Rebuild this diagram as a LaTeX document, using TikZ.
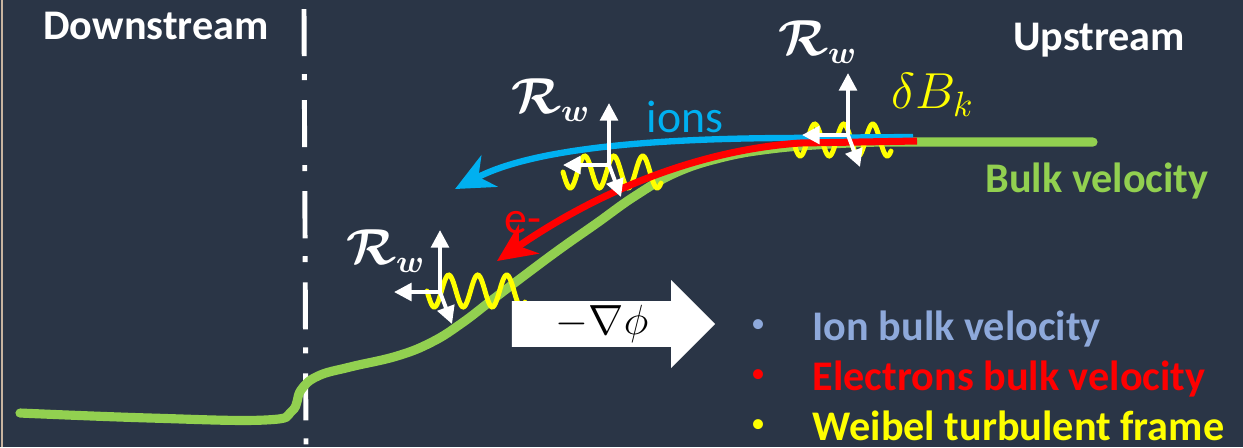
\documentclass[tikz,border=0pt]{standalone}
\usepackage{amsmath}
\usepackage{fontspec}
\setmainfont{Carlito}
\usepackage{tikz}
\usetikzlibrary{arrows.meta, shapes.arrows}
\definecolor{slatebg}{HTML}{2A3546}
\definecolor{bulkgreen}{HTML}{92D050}
\definecolor{ionblue}{HTML}{00B0F0}
\definecolor{ionlegend}{HTML}{8EA9DB}
\definecolor{weibelyellow}{HTML}{FFFF00}
\definecolor{elecred}{HTML}{FF0000}
\definecolor{edgetan}{HTML}{C8B4A0}

\begin{document}
\begin{tikzpicture}[x=0.01cm, y=-0.01cm,
          side/.style={text=white, font=\fontsize{12}{14}\selectfont\bfseries},
          rw/.style={text=white, font=\fontsize{13.5}{15}\selectfont},
          legtext/.style={anchor=base west, inner xsep=0pt, font=\fontsize{12}{14}\selectfont\bfseries},
          legdot/.style={inner sep=0pt, font=\fontsize{8}{9}\selectfont},
          bulk/.style={bulkgreen, line width=2.6pt, line cap=round},
          weibelwave/.style={weibelyellow, line width=1.4pt, line cap=round},
          frameaxis/.style={white, line width=1.1pt, -{Triangle[length=5pt, width=5pt]}},
          flow/.style={line width=1.8pt, -{Stealth[length=11pt, width=10pt, inset=3.5pt]}},
          shockline/.style={white, line width=1.4pt,
                      dash pattern=on 13.4pt off 5.1pt on 1.7pt off 5.7pt}
        ]
        \fill[slatebg] (0,0) rectangle (1243,447);
        \useasboundingbox (0,0) rectangle (1243,447);
        \draw[edgetan, line width=0.5pt] (2,0) -- (2,447);

        \node[side] (down) at (156,26) {Downstream};
        \node[side] (up)   at (1099,40) {Upstream};
        \node[side, text=bulkgreen] (bulklab) at (1097,181) {Bulk velocity};

        \coordinate (shocktop) at (304,9);
        \coordinate (shockbot) at (306,447);
        \draw[shockline] (shocktop) -- (shockbot);

        \draw[bulk] plot[smooth, tension=0.7] coordinates {(20,413) (150,418) (265,420)
          (292,411) (301,390) (318,376) (350,367) (397,356) (432,342) (462,323)
          (492,300) (525,275) (560,249) (597,223) (635,196) (675,173) (720,158)
          (770,149) (830,144) (880,142)} -- (1093,142);

        \foreach \wx/\wy in {793/140, 563/172, 427/291}
          \draw[weibelwave] plot[domain=0:98, samples=90, smooth]
            ({\wx+\x}, {\wy+16*sin(12.4138*\x)});

        \coordinate (ionA) at (913,137);
        \coordinate (ionB) at (780,138);
        \coordinate (ionC) at (455,189);
        \draw[flow, ionblue] (ionA) -- (ionB) .. controls (640,139) and (530,150) .. (ionC);

        \coordinate (elA) at (917,141);
        \coordinate (elB) at (800,143);
        \coordinate (elC) at (497,261);
        \draw[flow, elecred, line width=2pt] (elA) -- (elB) .. controls (700,150) and (600,190) .. (elC);

        \foreach \cx/\cy in {848/135, 609/165, 440/292} {
          \coordinate (o) at (\cx,\cy);
          \draw[frameaxis] (o) -- ++(0,-62);
          \draw[frameaxis] (o) -- ++(-46,0);
          \draw[frameaxis] (o) -- ++(12,32);
        }

        \node[rw] (rw1) at (818,42)  {$\boldsymbol{\mathcal{R}_w}$};
        \node[rw] (rw2) at (551,100) {$\boldsymbol{\mathcal{R}_w}$};
        \node[rw] (rw3) at (386,251) {$\boldsymbol{\mathcal{R}_w}$};
        \node[text=weibelyellow, font=\fontsize{14}{16}\selectfont] (dbk) at (933,95) {$\delta B_k$};
        \node[text=ionblue, font=\fontsize{13}{15}\selectfont] (ions) at (685,117) {ions};
        \node[text=elecred, font=\fontsize{13}{15}\selectfont] (elec) at (523,223) {e-};

        \node[single arrow, fill=white, text=black, minimum height=2.03cm,
              minimum width=0.85cm, single arrow head extend=0.21cm, inner ysep=1pt,
              font=\fontsize{11.5}{13}\selectfont] (grad) at (602,324) {$-\nabla\phi$};

        \node[legdot, text=ionlegend] (ionbul) at (758,326) {•};
        \node[legtext, text=ionlegend] (ionleg) at (812,340) {Ion bulk velocity};
        \node[legdot, text=elecred] (elbul) at (758,376) {•};
        \node[legtext, text=elecred] (elleg) at (812,390) {Electrons bulk velocity};
        \node[legdot, text=weibelyellow] (wbul) at (758,426) {•};
        \node[legtext, text=weibelyellow] (wleg) at (812,440) {Weibel turbulent frame};
      \end{tikzpicture}
\end{document}
